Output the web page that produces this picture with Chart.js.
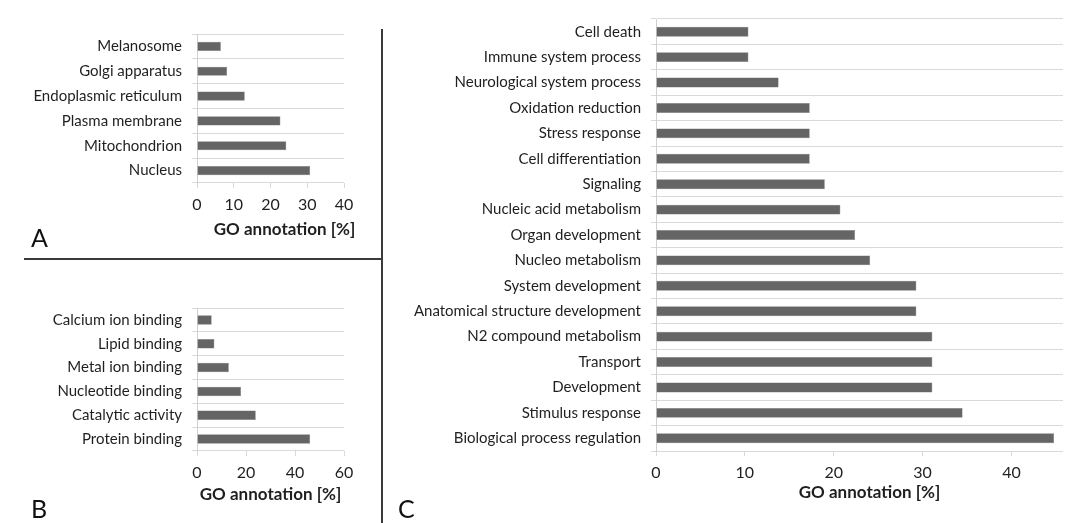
<!DOCTYPE html>
<html>
<head>
<meta charset="utf-8">
<script src="https://cdn.jsdelivr.net/npm/chart.js@4"></script>
<style>
  body { margin: 0; background: #fff; }
  #wrap { position: relative; width: 1068px; height: 523px; overflow: hidden; font-family: Lato, sans-serif; }
  .panel { position: absolute; }
  .letter { position: absolute; font-size: 25px; color: #111; line-height: 1; }
  .vline { position: absolute; left: 381px; top: 29px; width: 2px; height: 494px; background: #3a3a3a; }
  .hline { position: absolute; left: 24px; top: 258px; width: 358px; height: 2px; background: #3a3a3a; }
</style>
</head>
<body>
<div id="wrap">
  <div class="panel" style="left:0;top:0;width:382px;height:258px"><canvas id="chartA"></canvas></div>
  <div class="panel" style="left:0;top:260px;width:382px;height:263px"><canvas id="chartB"></canvas></div>
  <div class="panel" style="left:384px;top:0;width:684px;height:523px"><canvas id="chartC"></canvas></div>
  <div class="vline"></div>
  <div class="hline"></div>
  <div class="letter" style="left:31px;top:225px">A</div>
  <div class="letter" style="left:31px;top:496px">B</div>
  <div class="letter" style="left:398px;top:496px">C</div>
</div>
<script>
// Dados dos painéis (de cima para baixo)
const labelsA = ['Melanosome', 'Golgi apparatus', 'Endoplasmic reticulum', 'Plasma membrane', 'Mitochondrion', 'Nucleus'];
const valuesA = [6.5, 8.2, 13.0, 22.7, 24.3, 30.8];

const labelsB = ['Calcium ion binding', 'Lipid binding', 'Metal ion binding', 'Nucleotide binding', 'Catalytic activity', 'Protein binding'];
const valuesB = [6.0, 7.1, 13.0, 18.0, 24.0, 46.2];

const labelsC = ['Cell death', 'Immune system process', 'Neurological system process', 'Oxidation reduction',
    'Stress response', 'Cell differentiation', 'Signaling', 'Nucleic acid metabolism', 'Organ development',
    'Nucleo metabolism', 'System development', 'Anatomical structure development', 'N2 compound metabolism',
    'Transport', 'Development', 'Stimulus response', 'Biological process regulation'];
const valuesC = [10.4, 10.4, 13.8, 17.3, 17.3, 17.3, 19.0, 20.75, 22.4, 24.1, 29.3, 29.3, 31.1, 31.1, 31.1, 34.5, 44.8];

const axisTitle = 'GO annotation [%]';

function makeChart(id, labels, values, cfg) {
    new Chart(document.getElementById(id), {
        type: 'bar',
        data: {
            labels: labels,
            datasets: [{
                data: values,
                backgroundColor: '#656565',
                borderColor: '#7a7a7a',
                borderWidth: 0.5,
                barPercentage: cfg.bar,
                categoryPercentage: 1
            }]
        },
        options: {
            indexAxis: 'y',
            responsive: true,
            maintainAspectRatio: false,
            animation: false,
            layout: { padding: cfg.pad },
            plugins: { legend: { display: false }, tooltip: { enabled: false } },
            scales: {
                x: {
                    min: 0,
                    max: cfg.max,
                    afterFit: s => { s.height = cfg.xh; },
                    ticks: {
                        stepSize: cfg.step,
                        includeBounds: false,
                        padding: 7,
                        color: '#1f1f1f',
                        font: { family: 'Lato', size: 16 }
                    },
                    grid: { drawOnChartArea: false, tickLength: 5, color: '#d9d9d9' },
                    border: { display: false }
                },
                y: {
                    afterFit: s => { s.width = cfg.yw; },
                    ticks: {
                        padding: 10,
                        color: '#1f1f1f',
                        font: { family: 'Lato', size: 15 }
                    },
                    grid: { tickLength: 5, color: '#d9d9d9', lineWidth: 1 },
                    border: { color: '#d0d0d0' }
                }
            }
        },
        // titulo do eixo x, um pouco deslocado como no original
        plugins: [{
            id: 'axisTitle',
            afterDraw(chart) {
                const { ctx, chartArea, scales } = chart;
                ctx.save();
                ctx.font = 'bold 17px Lato';
                ctx.fillStyle = '#1f1f1f';
                ctx.textAlign = 'center';
                ctx.textBaseline = 'middle';
                ctx.fillText(axisTitle, (chartArea.left + chartArea.right) / 2 + cfg.tdx, scales.x.bottom - 10);
                ctx.restore();
            }
        }]
    });
}

makeChart('chartA', labelsA, valuesA, { max: 40, step: 10, bar: 0.37, yw: 197, xh: 57, tdx: 14, pad: { left: 0, right: 38, top: 34, bottom: 18 } });
makeChart('chartB', labelsB, valuesB, { max: 60, step: 20, bar: 0.40, yw: 197, xh: 54, tdx: 0, pad: { left: 0, right: 38, top: 48, bottom: 18 } });
makeChart('chartC', labelsC, valuesC, { max: 45.8, step: 10, bar: 0.39, yw: 272, xh: 52, tdx: 10, pad: { left: 0, right: 5, top: 13, bottom: 20 } });
</script>
</body>
</html>
